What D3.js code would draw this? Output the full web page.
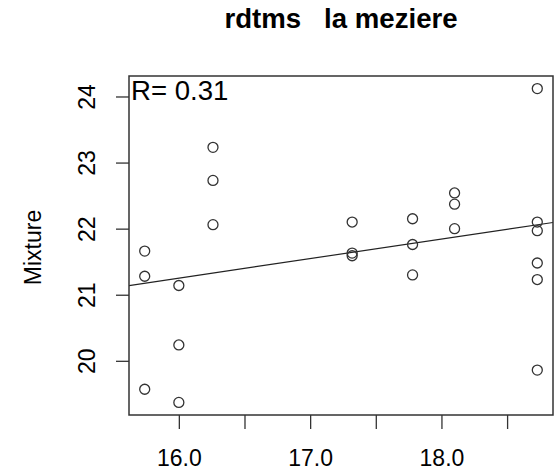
<!DOCTYPE html>
<html>
<head>
<meta charset="utf-8">
<script src="https://d3js.org/d3.v7.min.js"></script>
<style>
  body { margin:0; background:#fff; }
  text { font-family: "Liberation Sans", Arial, sans-serif; fill:#000; }
</style>
</head>
<body>
<div id="chart"></div>
<script>
var W = 558, H = 472;
var margin = {left:129, right:5, top:76, bottom:57};

// data
var rdtms   = [15.74,15.74,15.74, 16.0,16.0,16.0, 16.26,16.26,16.26,
               17.32,17.32,17.32, 17.78,17.78,17.78, 18.1,18.1,18.1,
               18.73,18.73,18.73,18.73,18.73,18.73];
var mixture = [21.66,21.28,19.57, 21.14,20.24,19.37, 23.23,22.73,22.06,
               22.1,21.63,21.59, 22.15,21.76,21.3, 22.54,22.37,22.0,
               24.12,22.1,21.97,21.48,21.23,19.86];
var xTicks = [16.0,16.5,17.0,17.5,18.0,18.5];
var xTickLabels = ["16.0","","17.0","","18.0",""];
var yTicks = [20,21,22,23,24];
var title = "rdtms   la meziere";
var yLabel = "Mixture";
var rLabel = "R= 0.31";

var pts = rdtms.map(function(d,i){ return {x:d, y:mixture[i]}; });

// R style 4% padding
function pad(ext){ var r = ext[1]-ext[0]; return [ext[0]-0.04*r, ext[1]+0.04*r]; }

var x = d3.scaleLinear().domain(pad(d3.extent(rdtms))).range([margin.left, W-margin.right]);
var y = d3.scaleLinear().domain(pad(d3.extent(mixture))).range([H-margin.bottom, margin.top]);

// least squares fit
var mx = d3.mean(rdtms), my = d3.mean(mixture);
var sxy = d3.sum(pts, function(d){ return (d.x-mx)*(d.y-my); });
var sxx = d3.sum(pts, function(d){ return (d.x-mx)*(d.x-mx); });
var slope = sxy/sxx, icpt = my - slope*mx;

var svg = d3.select("#chart").append("svg")
  .attr("width", W).attr("height", H);

var x0 = x.range()[0], x1 = x.range()[1];
var y0 = y.range()[1], y1 = y.range()[0];

// fit line (clipped to box)
svg.append("clipPath").attr("id","clip")
  .append("rect").attr("x",x0).attr("y",y0).attr("width",x1-x0).attr("height",y1-y0);

var xd = x.domain();
svg.append("line")
  .attr("clip-path","url(#clip)")
  .attr("x1", x(xd[0])).attr("y1", y(icpt+slope*xd[0]))
  .attr("x2", x(xd[1])).attr("y2", y(icpt+slope*xd[1]))
  .attr("stroke","#222").attr("stroke-width",1.2);

svg.selectAll("circle.pt")
  .data(pts)
  .enter()
  .append("circle")
    .attr("class","pt")
    .attr("cx", function(d){ return x(d.x); })
    .attr("cy", function(d){ return y(d.y); })
    .attr("r", 5)
    .attr("fill","none")
    .attr("stroke","#333")
    .attr("stroke-width",1.3);

// box
svg.append("rect")
  .attr("x",x0).attr("y",y0).attr("width",x1-x0).attr("height",y1-y0)
  .attr("fill","none").attr("stroke","#333").attr("stroke-width",1.5);

// axes
var xAxis = d3.axisBottom(x).tickValues(xTicks)
  .tickFormat(function(d,i){ return xTickLabels[i]; })
  .tickSize(14).tickSizeOuter(0);
var gx = svg.append("g").attr("transform","translate(0,"+y1+")").call(xAxis);
gx.select(".domain").remove();
gx.selectAll("line").attr("stroke","#333").attr("stroke-width",1.3);
gx.selectAll("text").attr("y",51).attr("dy",null)
  .style("font-size","23px").attr("fill","#000");

var yAxis = d3.axisLeft(y).tickValues(yTicks).tickFormat(d3.format("d"))
  .tickSize(13).tickSizeOuter(0);
var gy = svg.append("g").attr("transform","translate("+x0+",0)").call(yAxis);
gy.select(".domain").remove();
gy.selectAll("line").attr("stroke","#333").attr("stroke-width",1.3);
gy.selectAll("text")
  .attr("x",null).attr("dy",null)
  .attr("text-anchor","middle")
  .attr("transform","translate(-34,0) rotate(-90)")
  .style("font-size","23px").attr("fill","#000");

// labels
svg.append("text")
  .attr("x",(x0+x1)/2).attr("y",28)
  .attr("text-anchor","middle")
  .style("font-size","27.6px").style("font-weight","bold")
  .style("white-space","pre")
  .text(title);

svg.append("text")
  .attr("transform","translate(41,"+((y0+y1)/2+2)+") rotate(-90)")
  .attr("text-anchor","middle")
  .style("font-size","23px")
  .text(yLabel);

svg.append("text")
  .attr("x",x0+2).attr("y",y0+24)
  .style("font-size","27.6px")
  .text(rLabel);
</script>
</body>
</html>
